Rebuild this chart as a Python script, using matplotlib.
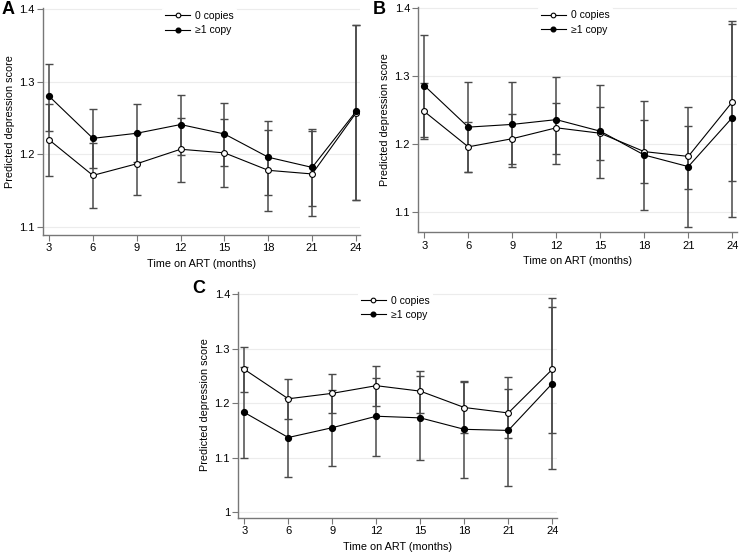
import numpy as np
import matplotlib.pyplot as plt
from matplotlib.ticker import FuncFormatter

plt.rcParams['font.family'] = ['Liberation Sans', 'DejaVu Sans']

months = [3, 6, 9, 12, 15, 18, 21, 24]
labels = ['0 copies', '\u22651 copy']

# Panel A
a_zero = [1.220, 1.171, 1.187, 1.207, 1.202, 1.178, 1.173, 1.257]
a_zero_lo = [1.170, 1.126, 1.144, 1.162, 1.155, 1.122, 1.115, 1.137]
a_zero_hi = [1.269, 1.216, 1.230, 1.250, 1.249, 1.233, 1.232, 1.378]
a_one = [1.280, 1.222, 1.229, 1.241, 1.228, 1.196, 1.182, 1.259]
a_one_lo = [1.232, 1.181, 1.189, 1.199, 1.184, 1.144, 1.129, 1.137]
a_one_hi = [1.324, 1.262, 1.269, 1.282, 1.271, 1.246, 1.235, 1.378]

# Panel B
b_zero = [1.248, 1.196, 1.208, 1.224, 1.216, 1.189, 1.182, 1.262]
b_zero_lo = [1.207, 1.159, 1.171, 1.186, 1.177, 1.143, 1.134, 1.146]
b_zero_hi = [1.290, 1.232, 1.244, 1.261, 1.254, 1.235, 1.227, 1.376]
b_one = [1.286, 1.225, 1.229, 1.236, 1.219, 1.184, 1.167, 1.239]
b_one_lo = [1.211, 1.159, 1.166, 1.171, 1.150, 1.103, 1.079, 1.093]
b_one_hi = [1.360, 1.292, 1.292, 1.299, 1.287, 1.263, 1.254, 1.381]

# Panel C
c_zero = [1.262, 1.208, 1.218, 1.232, 1.222, 1.192, 1.182, 1.262]
c_zero_lo = [1.220, 1.171, 1.182, 1.194, 1.182, 1.145, 1.136, 1.146]
c_zero_hi = [1.302, 1.244, 1.254, 1.268, 1.259, 1.241, 1.226, 1.376]
c_one = [1.183, 1.137, 1.155, 1.176, 1.173, 1.152, 1.150, 1.236]
c_one_lo = [1.100, 1.064, 1.085, 1.104, 1.095, 1.062, 1.048, 1.080]
c_one_hi = [1.267, 1.210, 1.224, 1.246, 1.250, 1.239, 1.248, 1.392]

yticks_ab = [1.1, 1.2, 1.3, 1.4]
yticks_c = [1.0, 1.1, 1.2, 1.3, 1.4]

W, H = 741, 555
fig = plt.figure(figsize=(W / 100, H / 100), dpi=100)


def px_axes(left, right, top, bottom):
    return fig.add_axes([left / W, 1 - bottom / H, (right - left) / W, (bottom - top) / H])


def draw_panel(ax, zero, zero_lo, zero_hi, one, one_lo, one_hi, ylim, yticks):
    zero = np.array(zero)
    one = np.array(one)
    # confidence intervals
    for m, lo, hi in [(zero, zero_lo, zero_hi), (one, one_lo, one_hi)]:
        err = [m - np.array(lo), np.array(hi) - m]
        ax.errorbar(months, m, yerr=err, fmt='none', ecolor='#4a4a4a',
                    elinewidth=1.1, capsize=2.6, capthick=1.0, zorder=2)
    ax.plot(months, zero, color='black', lw=0.8, marker='o', ms=4.2,
            mfc='white', mec='black', mew=0.8, label=labels[0], zorder=3)
    ax.plot(months, one, color='black', lw=0.8, marker='o', ms=4.2,
            mfc='black', mec='black', label=labels[1], zorder=3)

    ax.set_xlim(2.6, 24.3)
    ax.set_ylim(*ylim)
    ax.set_xticks(months)
    ax.set_yticks(yticks)
    ax.yaxis.set_major_formatter(FuncFormatter(lambda v, p: ('%g' % round(v, 2))))
    ax.grid(axis='y', color='#ececec', lw=0.8)
    ax.set_axisbelow(True)
    for s in ['top', 'right']:
        ax.spines[s].set_visible(False)
    for s in ['left', 'bottom']:
        ax.spines[s].set_color('#777777')
        ax.spines[s].set_linewidth(1.0)
    ax.tick_params(colors='#777777', labelcolor='black', labelsize=8,
                   length=4, width=0.8, pad=2)
    ax.set_xlabel('Time on ART (months)', fontsize=7.8, labelpad=4)
    ax.set_ylabel('Predicted depression score', fontsize=7.8, labelpad=3)
    ax.legend(loc='upper left', bbox_to_anchor=(0.375, 1.0), fontsize=7.5,
              frameon=True, facecolor='white', edgecolor='none', framealpha=1,
              handlelength=2.4, handletextpad=0.5, labelspacing=0.4,
              borderaxespad=0, borderpad=0.3, markerscale=0.8)


ax_a = px_axes(43.2, 360.4, 7.9, 235)
draw_panel(ax_a, a_zero, a_zero_lo, a_zero_hi, a_one, a_one_lo, a_one_hi,
           (1.089, 1.4015), yticks_ab)

ax_b = px_axes(418.4, 736.7, 7.3, 232.3)
draw_panel(ax_b, b_zero, b_zero_lo, b_zero_hi, b_one, b_one_lo, b_one_hi,
           (1.0705, 1.401), yticks_ab)

ax_c = px_axes(238.4, 556.7, 292.4, 517.7)
draw_panel(ax_c, c_zero, c_zero_lo, c_zero_hi, c_one, c_one_lo, c_one_hi,
           (0.99, 1.403), yticks_c)

fig.text(2 / W, 1 - 1 / H, 'A', fontsize=13, fontweight='bold', va='top', ha='left')
fig.text(373 / W, 1 - 1 / H, 'B', fontsize=13, fontweight='bold', va='top', ha='left')
fig.text(192 / W, 1 - 280 / H, 'C', fontsize=13, fontweight='bold', va='top', ha='left')

fig.savefig('out.png', dpi=100)
